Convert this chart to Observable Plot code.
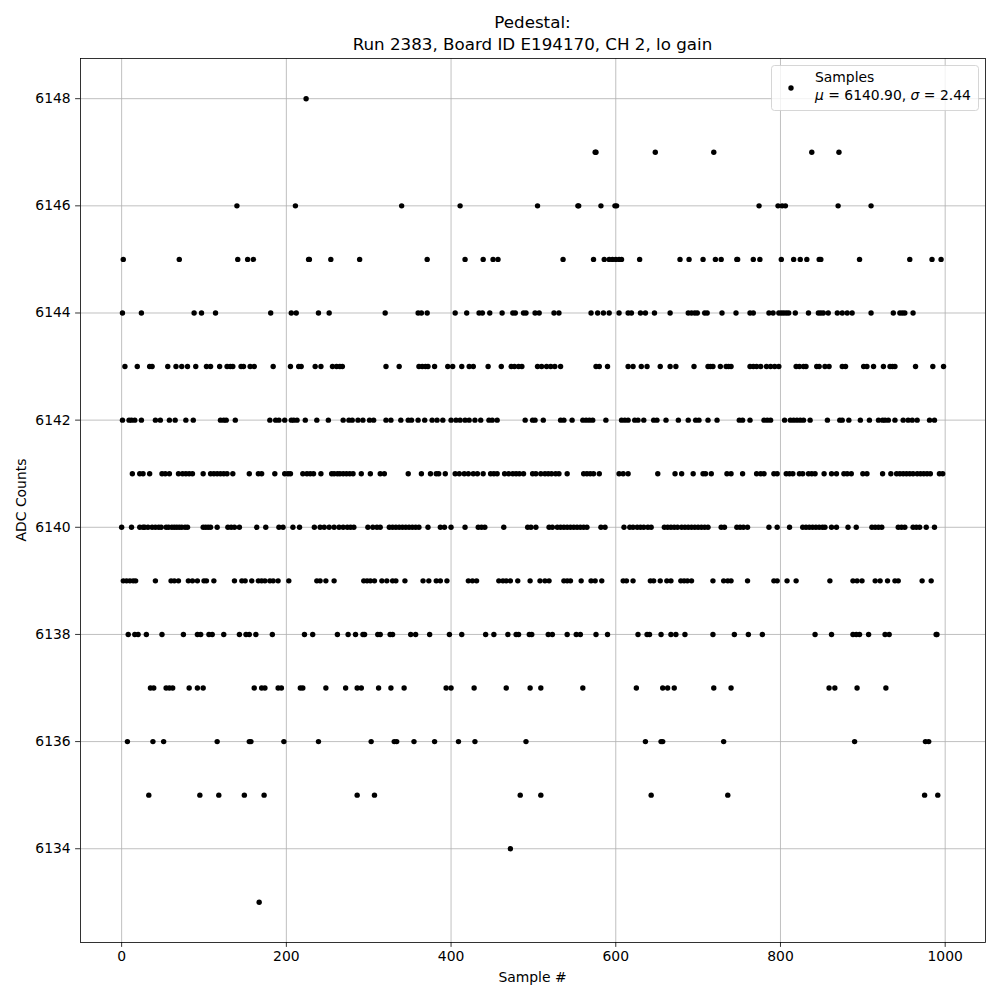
<!DOCTYPE html>
<html>
<head>
<meta charset="utf-8">
<script src="https://cdn.jsdelivr.net/npm/d3@7"></script>
<script src="https://cdn.jsdelivr.net/npm/@observablehq/plot@0.6"></script>
<style>
  html, body { margin: 0; padding: 0; background: white; }
  #chart { width: 1000px; height: 1000px; }
</style>
</head>
<body>
<div id="chart"></div>
<script>
const s6148 = [224];
const s6147 = [575, 576, 648, 719, 838, 871];
const s6146 = [140, 211, 340, 411, 505, 554, 555, 582, 599, 601, 774, 797, 802, 806, 870, 910];
const s6145 = [2, 70, 141, 153, 160, 227, 228, 254, 289, 371, 417, 439, 451, 457, 536, 573, 586, 592, 596, 600, 604, 607, 629, 678, 689, 706, 721, 728, 747, 748, 767, 775, 801, 816, 824, 832, 847, 849, 896, 957, 984, 995];
const s6144 = [1, 24, 88, 97, 114, 181, 206, 212, 239, 252, 320, 360, 364, 371, 405, 419, 434, 438, 447, 462, 475, 478, 488, 491, 502, 507, 525, 531, 570, 578, 585, 592, 604, 615, 619, 630, 636, 647, 666, 688, 692, 696, 699, 708, 711, 729, 746, 763, 767, 786, 791, 798, 801, 804, 807, 810, 818, 834, 846, 849, 852, 858, 869, 875, 881, 887, 910, 937, 945, 948, 951, 961];
const s6143 = [4, 19, 34, 37, 56, 66, 73, 80, 90, 103, 108, 119, 128, 132, 135, 145, 148, 156, 161, 184, 205, 215, 218, 235, 242, 256, 261, 265, 268, 321, 337, 361, 365, 369, 372, 380, 396, 402, 413, 422, 427, 445, 461, 473, 477, 482, 486, 505, 510, 516, 521, 526, 533, 576, 580, 590, 615, 621, 631, 638, 654, 666, 673, 695, 712, 715, 718, 727, 734, 737, 740, 763, 767, 771, 776, 783, 788, 793, 798, 819, 823, 828, 831, 844, 847, 854, 859, 875, 879, 901, 905, 913, 925, 933, 936, 939, 964, 985, 998];
const s6142 = [1, 9, 12, 16, 24, 41, 47, 58, 65, 78, 87, 120, 124, 127, 138, 180, 187, 191, 198, 206, 209, 213, 223, 237, 251, 269, 276, 280, 287, 293, 301, 306, 321, 327, 339, 348, 352, 360, 368, 377, 383, 390, 400, 406, 411, 417, 422, 429, 436, 446, 450, 456, 490, 499, 502, 512, 533, 537, 547, 560, 564, 568, 572, 588, 607, 611, 615, 623, 627, 634, 646, 650, 661, 676, 688, 697, 701, 712, 723, 750, 754, 763, 780, 784, 788, 805, 812, 816, 820, 824, 828, 836, 857, 872, 875, 883, 897, 908, 919, 924, 927, 931, 939, 949, 955, 960, 966, 981, 987];
const s6141 = [13, 22, 26, 34, 49, 53, 58, 69, 74, 78, 82, 86, 99, 108, 112, 116, 120, 124, 128, 135, 155, 166, 170, 186, 198, 202, 205, 220, 225, 229, 233, 242, 255, 258, 262, 265, 269, 273, 277, 281, 291, 302, 314, 319, 348, 364, 375, 382, 385, 393, 405, 410, 416, 421, 427, 432, 439, 448, 452, 456, 465, 470, 475, 479, 483, 488, 499, 503, 509, 514, 518, 522, 527, 531, 541, 561, 565, 569, 573, 580, 604, 609, 615, 651, 672, 680, 694, 706, 709, 716, 735, 740, 754, 771, 776, 780, 792, 796, 807, 811, 815, 823, 827, 834, 838, 842, 853, 862, 868, 877, 881, 886, 900, 905, 924, 934, 941, 945, 949, 953, 957, 961, 966, 970, 974, 978, 982, 993, 997];
const s6140 = [0, 12, 22, 26, 28, 32, 37, 41, 45, 48, 54, 57, 61, 64, 67, 70, 73, 77, 80, 99, 102, 105, 108, 116, 129, 133, 137, 143, 164, 175, 191, 196, 208, 216, 234, 241, 246, 252, 258, 264, 269, 274, 278, 282, 299, 305, 310, 314, 325, 329, 333, 337, 341, 345, 349, 353, 357, 361, 372, 387, 392, 400, 417, 433, 437, 441, 464, 493, 497, 503, 519, 523, 529, 533, 537, 541, 545, 549, 553, 557, 561, 565, 582, 587, 610, 617, 621, 626, 630, 634, 639, 643, 659, 663, 667, 671, 675, 680, 684, 688, 692, 696, 700, 704, 708, 712, 728, 732, 747, 751, 755, 760, 786, 796, 811, 827, 831, 835, 839, 843, 847, 851, 854, 862, 868, 882, 892, 911, 915, 919, 923, 943, 947, 951, 961, 965, 969, 977, 987];
const s6139 = [2, 6, 10, 14, 17, 41, 60, 64, 69, 81, 86, 92, 100, 103, 112, 137, 146, 150, 158, 166, 170, 174, 180, 184, 190, 203, 237, 241, 248, 258, 294, 298, 302, 307, 316, 322, 329, 333, 344, 366, 373, 382, 387, 395, 421, 426, 431, 458, 463, 467, 472, 481, 496, 508, 514, 519, 537, 541, 545, 558, 570, 575, 583, 609, 613, 621, 642, 646, 654, 662, 667, 679, 683, 687, 692, 718, 731, 736, 740, 760, 792, 796, 808, 819, 860, 888, 893, 899, 915, 921, 930, 939, 943, 972, 983];
const s6138 = [8, 16, 20, 30, 49, 75, 92, 96, 106, 110, 124, 143, 151, 155, 163, 183, 222, 232, 262, 275, 284, 293, 295, 311, 314, 326, 329, 351, 357, 374, 398, 413, 442, 452, 469, 479, 482, 495, 498, 518, 523, 541, 552, 557, 576, 590, 627, 638, 641, 655, 667, 673, 684, 718, 744, 761, 778, 842, 862, 888, 892, 896, 907, 927, 932, 989, 990];
const s6137 = [35, 39, 54, 58, 62, 82, 92, 99, 161, 170, 174, 190, 194, 217, 220, 248, 272, 286, 291, 312, 327, 343, 394, 400, 428, 467, 496, 509, 560, 625, 657, 663, 671, 719, 740, 859, 866, 893, 928];
const s6136 = [7, 38, 51, 116, 155, 157, 197, 239, 303, 331, 334, 355, 380, 409, 429, 491, 636, 655, 657, 731, 890, 976, 980];
const s6135 = [33, 95, 118, 149, 173, 286, 307, 484, 509, 643, 736, 975, 991];
const s6134 = [472];
const s6133 = [167];

const levels = [6148, 6147, 6146, 6145, 6144, 6143, 6142, 6141, 6140, 6139, 6138, 6137, 6136, 6135, 6134, 6133];
const sampleLists = [s6148, s6147, s6146, s6145, s6144, s6143, s6142, s6141, s6140, s6139, s6138, s6137, s6136, s6135, s6134, s6133];

const xTicks = [0, 200, 400, 600, 800, 1000];
const yTicks = [6134, 6136, 6138, 6140, 6142, 6144, 6146, 6148];

const titleLines = ["Pedestal:", "Run 2383, Board ID E194170, CH 2, lo gain"];
const xLabel = "Sample #";
const yLabel = "ADC Counts";
const legendLabel = "Samples";
const meanValue = "6140.90";
const sigmaValue = "2.44";

const data = [];
levels.forEach((lv, i) => sampleLists[i].forEach(s => data.push({sample: s, adc: lv})));

const FONT = "DejaVu Sans, Liberation Sans, sans-serif";
const GRID = "#b0b0b0";

const chart = Plot.plot({
  width: 1000,
  height: 1000,
  marginLeft: 80,
  marginRight: 15,
  marginTop: 58,
  marginBottom: 58,
  style: {fontFamily: FONT, background: "white", overflow: "visible"},
  x: {domain: [-49.95, 1048.95]},
  y: {domain: [6132.25, 6148.75]},
  marks: [
    Plot.gridX(xTicks, {stroke: GRID, strokeOpacity: 1, strokeWidth: 0.8}),
    Plot.gridY(yTicks, {stroke: GRID, strokeOpacity: 1, strokeWidth: 0.8}),
    Plot.dot(data, {x: "sample", y: "adc", r: 2.7, fill: "black", stroke: "none"}),
    Plot.frame({stroke: "black", strokeWidth: 0.8}),
    Plot.axisX(xTicks, {tickSize: 4.9, tickPadding: 4, fontSize: 13.9, label: null, tickFormat: d => String(d), strokeWidth: 0.8, fill: "black"}),
    Plot.axisY(yTicks, {tickSize: 4.9, tickPadding: 4.9, fontSize: 13.9, label: null, tickFormat: d => String(d), strokeWidth: 0.8, fill: "black"})
  ]
});

document.getElementById("chart").appendChild(chart);

const svg = d3.select(chart);
const cx = (80 + 985) / 2;

// Title
svg.append("text").attr("x", cx).attr("y", 28).attr("text-anchor", "middle")
  .attr("font-family", FONT).attr("font-size", 16.7).attr("fill", "black").text(titleLines[0]);
svg.append("text").attr("x", cx).attr("y", 50).attr("text-anchor", "middle")
  .attr("font-family", FONT).attr("font-size", 16.7).attr("fill", "black").text(titleLines[1]);

// Axis labels
svg.append("text").attr("x", cx).attr("y", 982).attr("text-anchor", "middle")
  .attr("font-family", FONT).attr("font-size", 13.9).attr("fill", "black").text(xLabel);
svg.append("text").attr("transform", "translate(26,500) rotate(-90)").attr("text-anchor", "middle")
  .attr("font-family", FONT).attr("font-size", 13.9).attr("fill", "black").text(yLabel);

// Legend
const lg = svg.append("g").attr("text-anchor", "start");
lg.append("rect").attr("x", 771.5).attr("y", 65.5).attr("width", 207).attr("height", 45)
  .attr("rx", 3).attr("fill", "white").attr("fill-opacity", 0.8).attr("stroke", "#cccccc").attr("stroke-width", 0.8);
lg.append("circle").attr("cx", 791).attr("cy", 88).attr("r", 2.7).attr("fill", "black");
lg.append("text").attr("x", 815).attr("y", 82).attr("text-anchor", "start").attr("font-family", FONT).attr("font-size", 13.9)
  .attr("fill", "black").text(legendLabel);
const t2 = lg.append("text").attr("x", 815).attr("y", 100).attr("text-anchor", "start").attr("font-family", FONT).attr("font-size", 13.9).attr("fill", "black");
t2.append("tspan").attr("font-style", "italic").text("μ");
t2.append("tspan").text(" = " + meanValue + ", ");
t2.append("tspan").attr("font-style", "italic").text("σ");
t2.append("tspan").text(" = " + sigmaValue);
</script>
</body>
</html>
